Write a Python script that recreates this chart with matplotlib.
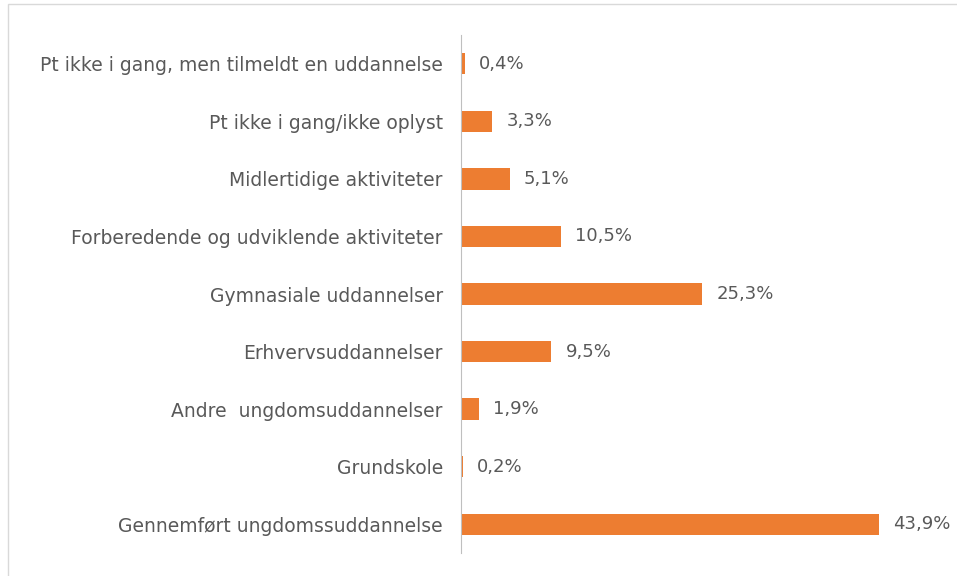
import matplotlib.pyplot as plt
from matplotlib.patches import Rectangle

categories = [
    "Gennemført ungdomssuddannelse",
    "Grundskole",
    "Andre  ungdomsuddannelser",
    "Erhvervsuddannelser",
    "Gymnasiale uddannelser",
    "Forberedende og udviklende aktiviteter",
    "Midlertidige aktiviteter",
    "Pt ikke i gang/ikke oplyst",
    "Pt ikke i gang, men tilmeldt en uddannelse",
]
values = [43.9, 0.2, 1.9, 9.5, 25.3, 10.5, 5.1, 3.3, 0.4]
labels = ["43,9%", "0,2%", "1,9%", "9,5%", "25,3%", "10,5%", "5,1%", "3,3%", "0,4%"]

W, H = 957, 576
fig = plt.figure(figsize=(W / 100, H / 100), dpi=100)
ax = fig.add_axes([461 / W, 23 / H, (937 - 461) / W, (541 - 23) / H])

# chart border (only top/left visible in the crop)
fig.patches.append(Rectangle((8 / W, -0.1), 1.2, (572 / H) + 0.1, transform=fig.transFigure,
                             fill=False, edgecolor="#d9d9d9", linewidth=1))

ypos = list(range(len(categories)))
ax.barh(ypos, values, height=0.37, color="#ed7d31")
for y, v, lab in zip(ypos, values, labels):
    ax.text(v + 1.5, y, lab, va="center", ha="left", fontsize=13, color="#595959")

ax.set_xlim(0, 50)
ax.set_ylim(-0.5, 8.5)
ax.set_yticks(ypos)
ax.set_yticklabels(categories, fontsize=13.5, color="#595959")
ax.tick_params(axis="y", length=0, pad=13)
ax.set_xticks([])
for s in ["top", "right", "bottom"]:
    ax.spines[s].set_visible(False)
ax.spines["left"].set_color("#bfbfbf")
ax.spines["left"].set_linewidth(0.8)

fig.savefig("out.png", dpi=100)
